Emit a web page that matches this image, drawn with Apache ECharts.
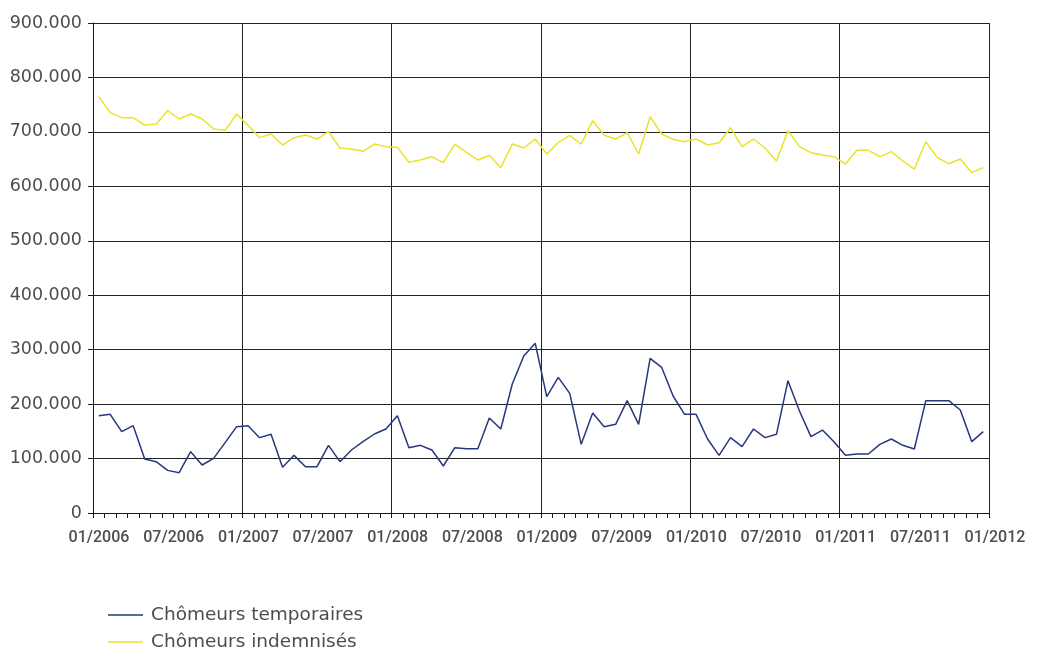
<!DOCTYPE html>
<html>
<head>
<meta charset="utf-8">
<script src="https://cdn.jsdelivr.net/npm/echarts@6/dist/echarts.min.js"></script>
<style>
html,body{margin:0;padding:0;background:#fff;}
#chart{width:1037px;height:651px;}
</style>
</head>
<body>
<div id="chart"></div>
<script>
// Tick labels along the x axis (one every half section)
const tickLabels = ['01/2006','07/2006','01/2007','07/2007','01/2008','07/2008','01/2009','07/2009','01/2010','07/2010','01/2011','07/2011','01/2012'];

// Series names
const seriesNames = ['Chômeurs temporaires', 'Chômeurs indemnisés'];

// Chômeurs temporaires (78 points)
const temporaires = [
  178800,181200,149400,160400,99200,94300,78300,74100,112700,88200,100400,129200,158600,
  160400,138400,144500,83900,105900,85100,85100,124300,94300,115700,131000,145100,154300,178800,
  120000,124300,115700,86300,120000,118200,118200,174500,154300,236900,288400,311600,213700,
  249200,219800,126100,183700,158600,162900,206300,162900,284100,267600,214900,181200,181200,
  135900,105900,138400,121800,154300,138400,144500,243000,187300,140200,152400,131000,
  105900,108400,108400,126100,135900,124300,117500,206300,206300,206300,189200,131000,149400
];

// Chômeurs indemnisés (78 points)
const indemnises = [
  764700,735300,726100,726000,712600,714500,739000,723700,732800,723700,705300,702900,732800,
  712000,689400,696100,675900,689400,694300,686900,700400,670400,668600,664300,677700,672900,671600,
  644100,648400,654500,643400,677700,662400,648400,656900,634300,677700,670400,686900,659400,
  680200,693600,677700,720600,693600,686900,698500,659400,727900,696100,686300,682000,686900,
  675900,680200,707700,672900,686900,670400,646500,702200,672900,661800,657500,654500,
  641000,666100,666100,654500,663700,646500,631800,682000,652700,641600,650200,625100,634300
];

const nPoints = temporaires.length;            // 78
const labelStep = nPoints / (tickLabels.length - 1); // 6.5
const sectionStep = labelStep * 2;             // 13

function yFmt(v){ return v === 0 ? '0' : (v/1000) + '.000'; }

const chart = echarts.init(document.getElementById('chart'), null, {renderer:'canvas'});
const axisColor = '#1a1a1a';
const labelColor = '#4d4d4d';
const wideFont = '"DejaVu Sans", sans-serif';
const narrowFont = 'Roboto, sans-serif';
const colors = ['#27377c', '#ebe22a'];

const xBase = {type:'value', min:0, max:nPoints, position:'bottom'};

const legendBase = {
  orient:'vertical', left:103,
  icon:'rect', itemWidth:35, itemHeight:1.5,
  textStyle:{color:labelColor, fontSize:18.5, fontFamily:wideFont, lineHeight:22, padding:[0,0,0,3]}
};

chart.setOption({
  animation:false,
  backgroundColor:'#ffffff',
  color:colors,
  grid:{left:93, right:48, top:23, bottom:138, containLabel:false},
  xAxis:[
    Object.assign({}, xBase, {
      interval:1,
      axisLine:{show:true, lineStyle:{color:axisColor, width:1}},
      axisTick:{show:true, length:5, lineStyle:{color:axisColor, width:1}},
      axisLabel:{show:false},
      splitLine:{show:false}
    }),
    Object.assign({}, xBase, {
      interval:sectionStep,
      axisLine:{show:false}, axisTick:{show:false}, axisLabel:{show:false},
      splitLine:{show:true, lineStyle:{color:'#222', width:1}}
    }),
    Object.assign({}, xBase, {
      interval:labelStep,
      axisLine:{show:false}, axisTick:{show:false},
      splitLine:{show:false},
      axisLabel:{
        show:true, margin:17, showMinLabel:true, showMaxLabel:true,
        color:labelColor, fontSize:16, fontWeight:500, fontFamily:narrowFont,
        padding:[0,0,0,12],
        formatter:function(v){ const k = Math.round(v/labelStep); return tickLabels[k] || ''; }
      }
    })
  ],
  yAxis:{
    type:'value', min:0, max:900000, interval:100000,
    axisLine:{show:true, lineStyle:{color:axisColor, width:1}},
    axisTick:{show:true, length:5, lineStyle:{color:axisColor}},
    splitLine:{show:true, lineStyle:{color:'#222', width:1}},
    axisLabel:{margin:11, color:labelColor, fontSize:17.5, fontFamily:wideFont, formatter:yFmt}
  },
  legend:[
    Object.assign({}, legendBase, {top:599, data:[seriesNames[0]]}),
    Object.assign({}, legendBase, {top:626, data:[seriesNames[1]]})
  ],
  series:[
    {
      name:seriesNames[0], type:'line', xAxisIndex:0, showSymbol:false, symbol:'none',
      lineStyle:{color:colors[0], width:1.5}, itemStyle:{color:colors[0]},
      data:temporaires.map(function(v,i){ return [i+0.5, v]; })
    },
    {
      name:seriesNames[1], type:'line', xAxisIndex:0, showSymbol:false, symbol:'none',
      lineStyle:{color:colors[1], width:1.5}, itemStyle:{color:colors[1]},
      data:indemnises.map(function(v,i){ return [i+0.5, v]; })
    }
  ]
});
</script>
</body>
</html>
